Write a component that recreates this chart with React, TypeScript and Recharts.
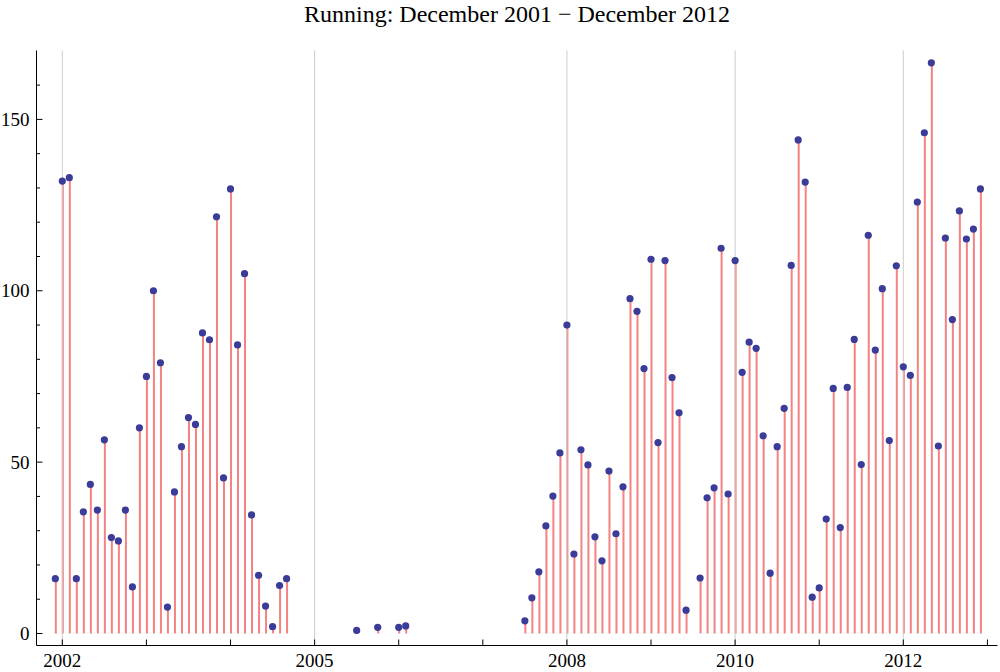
import React from 'react';
import { ComposedChart, Bar, Line, XAxis, YAxis, ReferenceLine } from 'recharts';

// Monthly running totals, Jan..Dec. null = nothing logged that month.
const runs2001 = [null, null, null, null, null, null, null, null, null, null, null, 16];
const runs2002 = [132, 133, 16, 35.5, 43.5, 36, 56.5, 28, 27, 36, 13.6, 60];
const runs2003 = [75, 100, 79, 7.7, 41.3, 54.5, 63, 61, 87.7, 85.7, 121.6, 45.4];
const runs2004 = [129.7, 84.2, 105, 34.6, 17, 8, 2, 14, 16, null, null, null];
const runs2005 = [null, null, null, null, null, null, 0.9, null, null, 1.8, null, null];
const runs2006 = [1.8, 2.2, null, null, null, null, null, null, null, null, null, null];
const runs2007 = [null, null, null, null, null, null, 3.7, 10.4, 18, 31.4, 40.1, 52.7];
const runs2008 = [90, 23.2, 53.6, 49.2, 28.2, 21.2, 47.4, 29.1, 42.8, 97.7, 94, 77.3];
const runs2009 = [109.2, 55.7, 108.8, 74.7, 64.4, 6.8, null, 16.2, 39.6, 42.5, 112.4, 40.7];
const runs2010 = [108.8, 76.2, 85, 83.2, 57.7, 17.6, 54.5, 65.7, 107.4, 144, 131.7, 10.6];
const runs2011 = [13.3, 33.4, 71.5, 30.9, 71.8, 85.8, 49.3, 116.2, 82.7, 100.6, 56.3, 107.3];
const runs2012 = [77.8, 75.3, 125.9, 146.1, 166.5, 54.7, 115.4, 91.6, 123.3, 115.1, 118, 129.7];

const years = [2001, 2002, 2003, 2004, 2005, 2006, 2007, 2008, 2009, 2010, 2011, 2012];
const byYear = [runs2001, runs2002, runs2003, runs2004, runs2005, runs2006,
  runs2007, runs2008, runs2009, runs2010, runs2011, runs2012];

const yearTicks = [2002, 2003, 2004, 2005, 2006, 2007, 2008, 2009, 2010, 2011, 2012, 2013];
const labelledYears = [2002, 2005, 2008, 2010, 2012];
const valueTicks = [0, 10, 20, 30, 40, 50, 60, 70, 80, 90, 100, 110, 120, 130, 140, 150, 160];
const labelledValues = [0, 50, 100, 150];

const data = byYear.flatMap((months, i) =>
  months
    .map((v, m) => ({ t: years[i] + m / 12, v }))
    .filter(d => d.v !== null)
);

const FONT = "'Liberation Serif', 'Times New Roman', Times, serif";
const X_DOMAIN = [2001.693, 2013.12];
const Y_DOMAIN = [-3.5, 170.1];

const BottomTick = ({ x, y, payload }: any) => (
  <g>
    <line x1={x} y1={y} x2={x} y2={y - 6} stroke="#000" />
    {labelledYears.includes(payload.value) && (
      <text x={x} y={y + 21} textAnchor="middle" fontSize={19} fontFamily={FONT} fill="#000">
        {payload.value}
      </text>
    )}
  </g>
);

const TopTick = ({ x, y }: any) => (
  <line x1={x} y1={y} x2={x} y2={y + 6} stroke="#000" />
);

const LeftTick = ({ x, y, payload }: any) => {
  const major = labelledValues.includes(payload.value);
  return (
    <g>
      <line x1={x} y1={y} x2={x + (major ? 6 : 3.5)} y2={y} stroke="#000" />
      {major && (
        <text x={x - 7} y={y + 6.5} textAnchor="end" fontSize={19} fontFamily={FONT} fill="#000">
          {payload.value}
        </text>
      )}
    </g>
  );
};

const RightTick = ({ x, y, payload }: any) => {
  const major = labelledValues.includes(payload.value);
  return <line x1={x} y1={y} x2={x - (major ? 6 : 3.5)} y2={y} stroke="#000" />;
};

const Stem = (props: any) => {
  const { x, y, width, height } = props;
  if (x == null || y == null) return null;
  const cx = x + width / 2;
  return <line x1={cx} y1={y} x2={cx} y2={y + height} stroke="#f58282" strokeWidth={2} />;
};

export default function App() {
  return (
    <div style={{ position: 'absolute', left: 0, top: 0, width: 1000, height: 672, background: '#fff' }}>
      <div style={{ position: 'absolute', left: 0, top: 0 }}>
        <ComposedChart
          width={1000}
          height={672}
          data={data}
          margin={{ top: 50.5, right: 2.5, bottom: 0, left: 0.5 }}
        >
          <XAxis
            dataKey="t"
            type="number"
            domain={X_DOMAIN}
            allowDataOverflow
            ticks={yearTicks}
            interval={0}
            tickLine={false}
            tickSize={0}
            tickMargin={0}
            height={26.5}
            axisLine={{ stroke: '#000' }}
            tick={(p: any) => <BottomTick {...p} />}
          />
          <XAxis
            xAxisId="top"
            orientation="top"
            dataKey="t"
            type="number"
            domain={X_DOMAIN}
            allowDataOverflow
            ticks={yearTicks}
            interval={0}
            tickLine={false}
            tickSize={0}
            tickMargin={0}
            height={0}
            axisLine={{ stroke: '#000' }}
            tick={(p: any) => <TopTick {...p} />}
          />
          <YAxis
            type="number"
            domain={Y_DOMAIN}
            allowDataOverflow
            ticks={valueTicks}
            interval={0}
            tickLine={false}
            tickSize={0}
            tickMargin={0}
            width={36}
            axisLine={{ stroke: '#000' }}
            tick={(p: any) => <LeftTick {...p} />}
          />
          <YAxis
            yAxisId="right"
            orientation="right"
            type="number"
            domain={Y_DOMAIN}
            allowDataOverflow
            ticks={valueTicks}
            interval={0}
            tickLine={false}
            tickSize={0}
            tickMargin={0}
            width={0}
            axisLine={{ stroke: '#000' }}
            tick={(p: any) => <RightTick {...p} />}
          />
          {labelledYears.map(yr => (
            <ReferenceLine key={yr} x={yr} stroke="#cccccc" strokeWidth={1} />
          ))}
          <Bar dataKey="v" barSize={2} shape={Stem} isAnimationActive={false} />
          <Line
            dataKey="v"
            stroke="none"
            dot={{ r: 3.6, fill: '#3b3b98', stroke: 'none' }}
            activeDot={false}
            isAnimationActive={false}
          />
        </ComposedChart>
      </div>
      <svg width={1000} height={40} style={{ position: 'absolute', left: 0, top: 0 }}>
        <text x={517} y={21.5} textAnchor="middle" fontSize={24} fontFamily={FONT} fill="#000">
          Running: December 2001 − December 2012
        </text>
      </svg>
    </div>
  );
}
